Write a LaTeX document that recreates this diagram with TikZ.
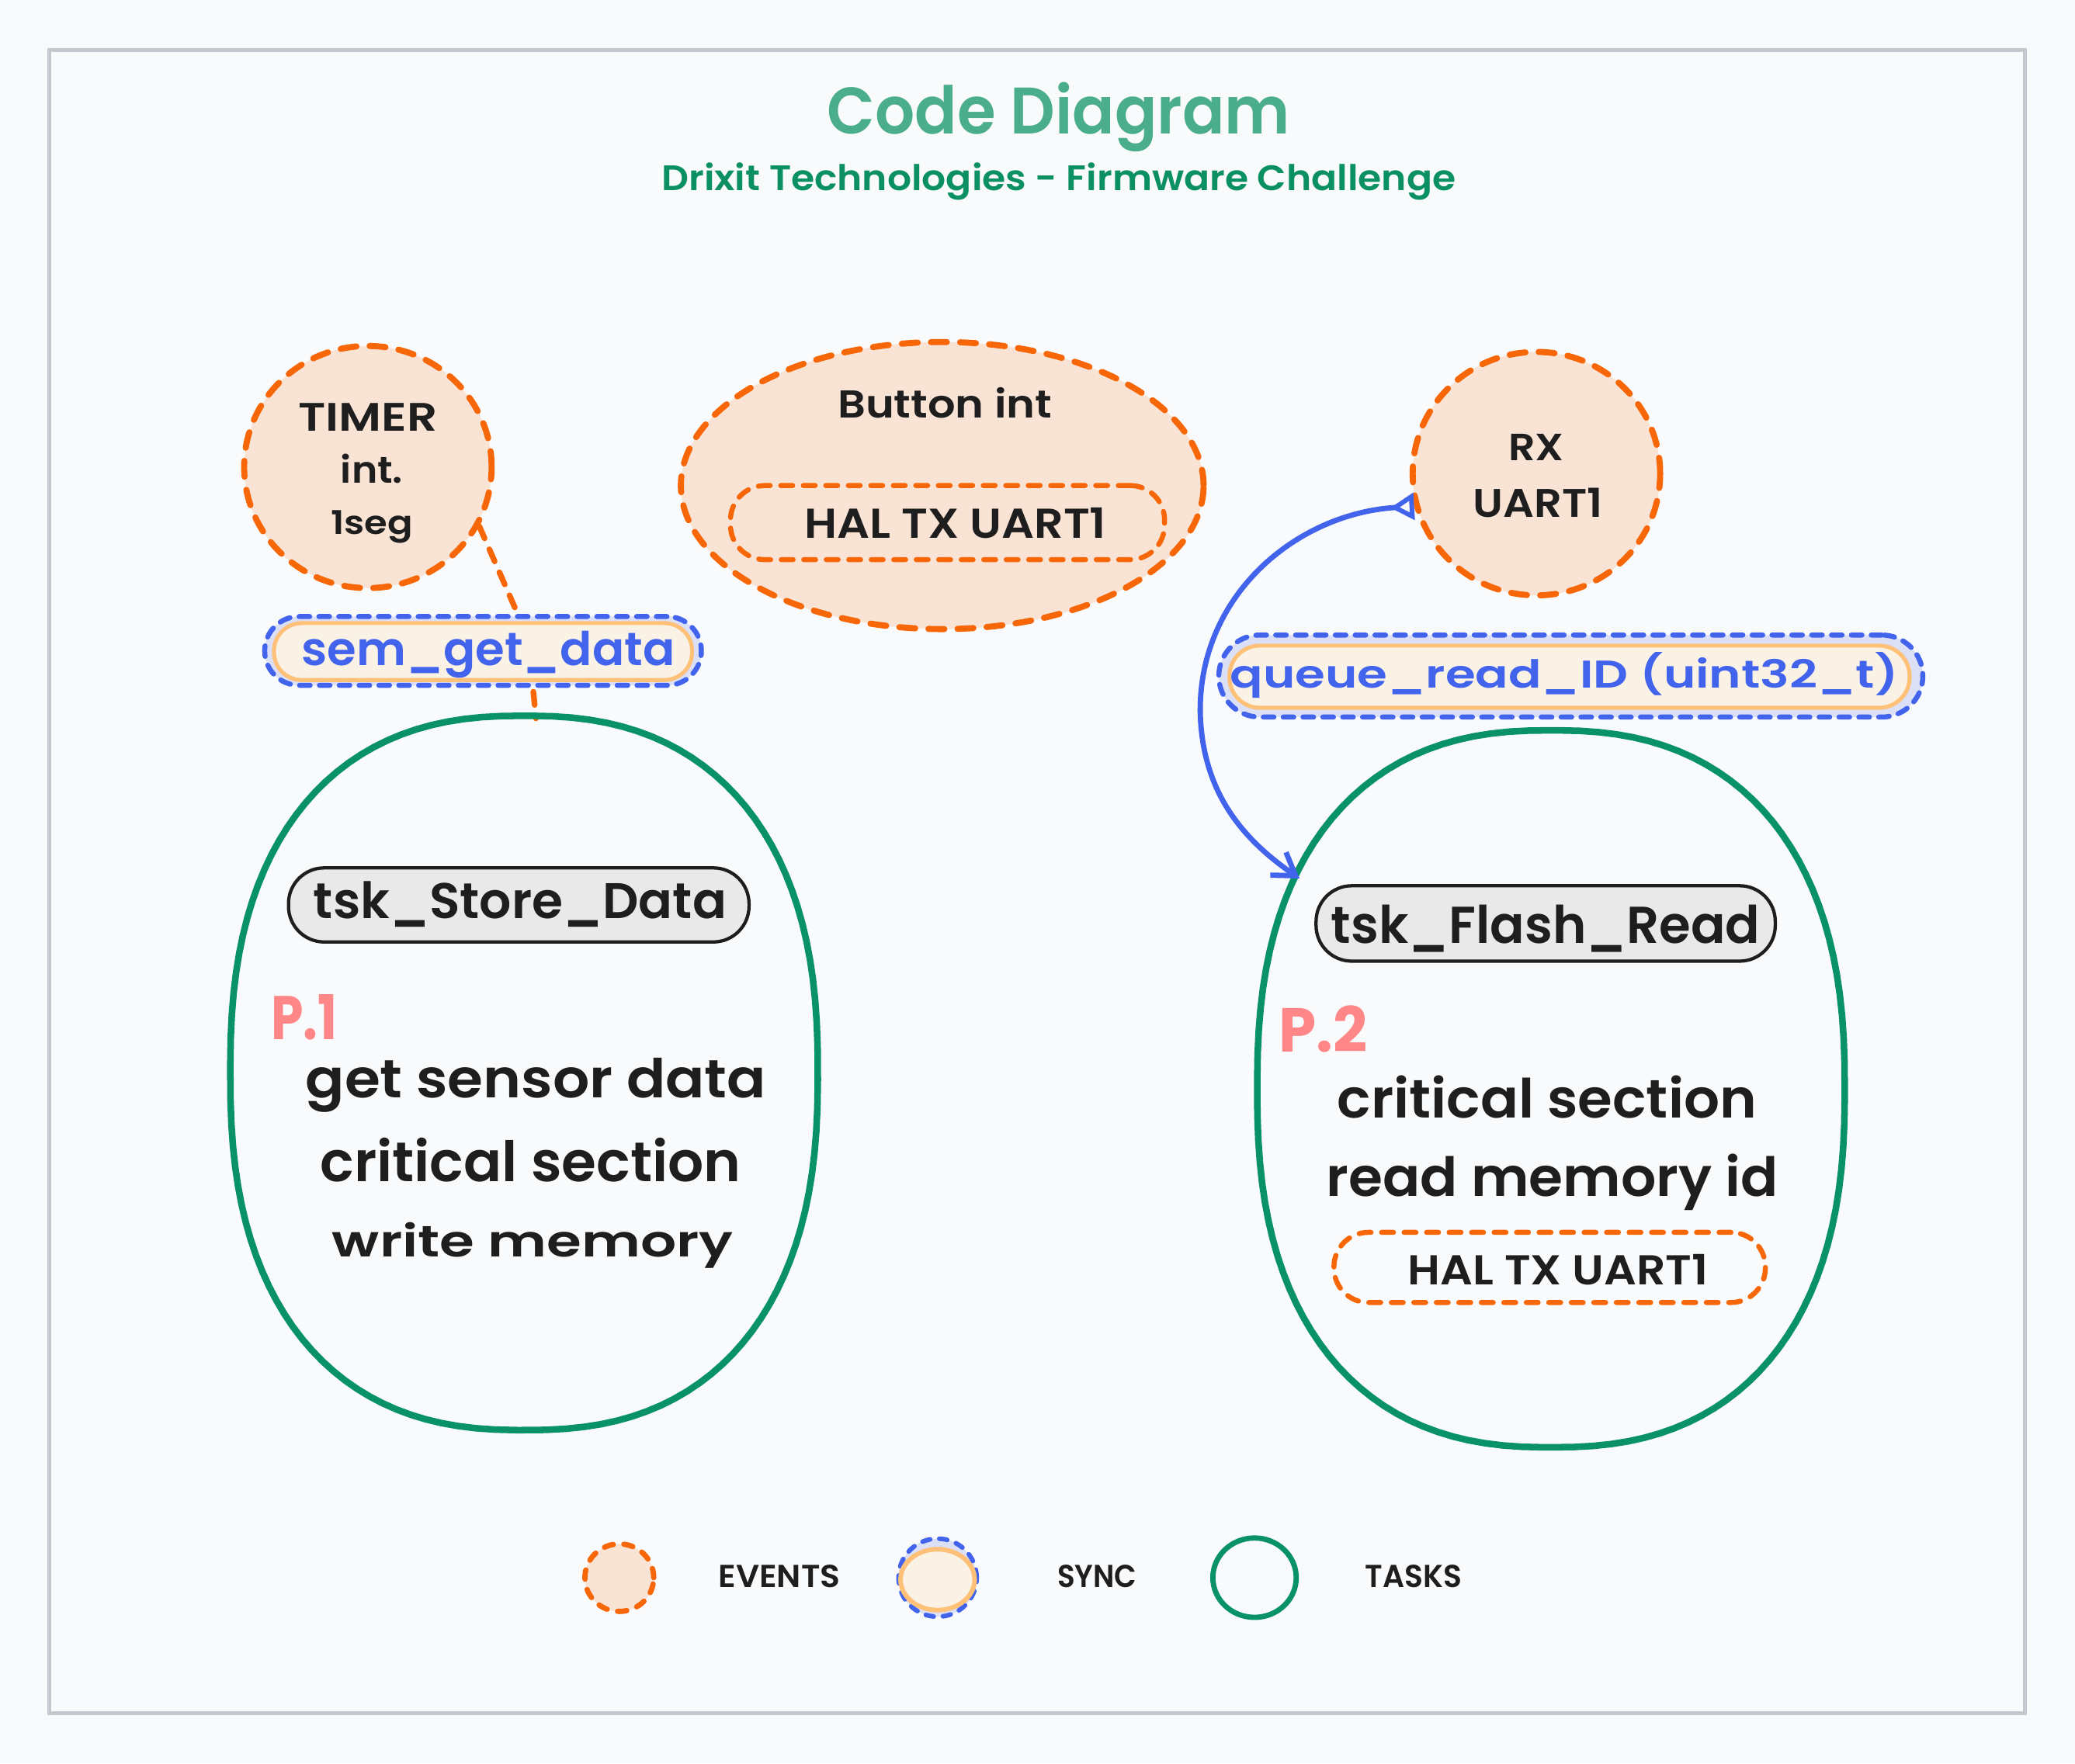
\documentclass[tikz,border=0pt]{standalone}
\usepackage{fontspec}
\setmainfont{Poppins}[UprightFont={* SemiBold}, BoldFont={* Bold}]
\usepackage{graphicx}
\usetikzlibrary{shapes.geometric,arrows.meta}
\definecolor{bgc}{HTML}{F8F9FA}
\definecolor{framefill}{HTML}{F9FAFB}
\definecolor{framec}{HTML}{C4C8CE}
\definecolor{orng}{HTML}{F76707}
\definecolor{peach}{HTML}{F9E3D5}
\definecolor{blu}{HTML}{4263EB}
\definecolor{lav}{HTML}{DBE0F7}
\definecolor{ora2}{HTML}{FFC078}
\definecolor{cream}{HTML}{FBF2E6}
\definecolor{tgreen}{HTML}{099268}
\definecolor{ttl}{HTML}{4AAD8B}
\definecolor{subc}{HTML}{0B9062}
\definecolor{ink}{HTML}{1E1E1E}
\definecolor{lgray}{HTML}{E9E9E9}
\definecolor{pink}{HTML}{FF8787}
\newcommand\tx[3]{\resizebox{#1pt}{#2pt}{#3}}
\newcommand\taskshape[4]{%
  \draw[tasksty] plot[domain=0.5:360.5,samples=121,variable=\t]
   ({#1+#3*cos(\t)*abs(cos(\t))^(-0.17)},{#2+#4*sin(\t)*abs(sin(\t))^(-0.17)}) -- cycle;}
\tikzset{
  evt/.style={ellipse, draw=orng, fill=peach, line width=4.6pt, dash pattern=on 12pt off 10pt, line cap=round, inner sep=0pt},
  halpill/.style={rectangle, rounded corners=26pt, draw=orng, line width=3.8pt, dash pattern=on 9pt off 8pt, line cap=round, inner sep=0pt},
  syncout/.style={rectangle, draw=blu, fill=lav, line width=3.8pt, dash pattern=on 8pt off 7pt, line cap=round, inner sep=0pt},
  syncin/.style={rectangle, draw=ora2, fill=cream, line width=3pt, inner sep=0pt},
  tlabel/.style={rectangle, rounded corners=27pt, draw=ink, fill=lgray, line width=2.5pt, inner sep=0pt},
  tasksty/.style={draw=tgreen, line width=5pt},
  txt/.style={anchor=base, inner sep=0pt, text=ink},
  evline/.style={draw=orng, line width=4.3pt, dash pattern=on 10pt off 9pt, line cap=round},
}
\begin{document}
\begin{tikzpicture}[x=1pt,y=-1pt]
\useasboundingbox (0,0) rectangle (1568,1333);
\fill[bgc] (0,0) rectangle (1568,1333);
\draw[framec, line width=3pt, fill=framefill] (37,38) rectangle (1530,1295);

% title
\node[txt, text=ttl] (title) at (800,101) {\tx{350}{39}{Code Diagram}};
\node[txt, text=subc] (subtitle) at (800,144) {\tx{600}{21}{Drixit Technologies - Firmware Challenge}};

% events
\node[evt, minimum width=187pt, minimum height=183pt] (timer) at (278,353) {};
\node[evt, minimum width=395pt, minimum height=217pt] (button) at (712,367) {};
\node[evt, minimum width=187pt, minimum height=184pt] (rx) at (1161,358) {};
\node[halpill, minimum width=328pt, minimum height=56pt] (hal1) at (716,395) {};

\node[txt] (timerA) at (278,326) {\tx{105}{21}{TIMER}};
\node[txt] (timerB) at (281,365) {\tx{47}{22}{int.}};
\node[txt] (timerC) at (281,404) {\tx{62}{18}{1seg}};
\node[txt] (buttonT) at (714,316) {\tx{162}{23}{Button int}};
\node[txt] (hal1T) at (722,407) {\tx{228}{23}{HAL TX UART1}};
\node[txt] (rxA) at (1161,348) {\tx{42}{20}{RX}};
\node[txt] (rxB) at (1162,391) {\tx{98}{22}{UART1}};

% tasks (invisible anchors + drawn shapes)
\node[ellipse, minimum width=444pt, minimum height=540pt, inner sep=0pt] (task1) at (396,811) {};
\node[ellipse, minimum width=444pt, minimum height=541pt, inner sep=0pt] (task2) at (1172,823) {};
\coordinate (t1top) at (405,543);
\coordinate (semjoin) at (399,482);
\coordinate (t2arr) at (982,664);

% timer -> task1 dashed connector (behind the sync pill)
\draw[evline] (timer.-28) -- (semjoin) -- (t1top);

\taskshape{396}{811}{222}{270}
\taskshape{1172}{823}{222}{271}

% sync pills
\node[syncout, rounded corners=26pt, minimum width=330pt, minimum height=52pt] (semO) at (365,492) {};
\node[syncin, rounded corners=21pt, minimum width=316pt, minimum height=43pt] (semI) at (365,492.5) {};
\node[txt, text=blu] (semT) at (369,503) {\tx{282}{26}{sem\_get\_data}};

\node[syncout, rounded corners=31pt, minimum width=532pt, minimum height=62pt] (queO) at (1187,511) {};
\node[syncin, rounded corners=23pt, minimum width=514pt, minimum height=47pt] (queI) at (1186,511.5) {};
\node[txt, text=blu] (queT) at (1182,520) {\tx{505}{27}{queue\_read\_ID (uint32\_t)}};

% task 1 contents
\node[tlabel, minimum width=348pt, minimum height=56pt] (lbl1) at (392,684) {};
\node[txt] (lbl1T) at (393,694) {\tx{312}{28}{tsk\_Store\_Data}};
\node[txt, text=pink] (p1) at (230,786) {\tx{50}{34}{\bfseries P.1}};
\node[txt] (t1a) at (405,830) {\tx{348}{30}{get sensor data}};
\node[txt] (t1b) at (401,893) {\tx{318}{33}{critical section}};
\node[txt] (t1c) at (402.5,950) {\tx{303}{26}{write memory}};

% task 2 contents
\node[tlabel, minimum width=347pt, minimum height=57pt] (lbl2) at (1168,698) {};
\node[txt] (lbl2T) at (1168,713) {\tx{324}{29}{tsk\_Flash\_Read}};
\node[txt, text=pink] (p2) at (1000,795) {\tx{67}{35}{\bfseries P.2}};
\node[txt] (t2a) at (1169,845) {\tx{317}{32}{critical section}};
\node[txt] (t2b) at (1173,904) {\tx{341}{32}{read memory id}};
\node[halpill, minimum width=326pt, minimum height=53pt] (hal2) at (1171,958) {};
\node[txt] (hal2T) at (1177.5,971) {\tx{227}{23}{HAL TX UART1}};

% queue arrow
\draw[blu, line width=4pt, line cap=round,
  {Triangle[open,reversed,length=18pt,width=20pt,line width=3.5pt]}-{Straight Barb[length=16pt,width=21pt,line width=4pt]}]
  (rx.195) .. controls (980,388) and (905,450) .. (907,540)
  .. controls (909,600) and (940,635) .. (t2arr);

% legend
\node[evt, minimum width=52pt, minimum height=51pt, line width=4pt, dash pattern=on 7pt off 8pt] (legE) at (468,1192.5) {};
\node[txt] (legET) at (589,1200) {\tx{92}{17}{EVENTS}};
\node[ellipse, draw=blu, fill=lav, line width=3.5pt, dash pattern=on 6pt off 7pt, line cap=round, minimum width=59pt, minimum height=59pt, inner sep=0pt] (legS) at (708.5,1192.5) {};
\node[ellipse, draw=ora2, fill=cream, line width=3.5pt, minimum width=56pt, minimum height=46pt, inner sep=0pt] (legSi) at (708.5,1194) {};
\node[txt] (legST) at (829,1200) {\tx{60}{17}{SYNC}};
\node[ellipse, draw=tgreen, line width=4pt, minimum width=63pt, minimum height=60pt, inner sep=0pt] (legT) at (948,1192.5) {};
\node[txt] (legTT) at (1068,1200) {\tx{73}{17}{TASKS}};
\end{tikzpicture}
\end{document}
